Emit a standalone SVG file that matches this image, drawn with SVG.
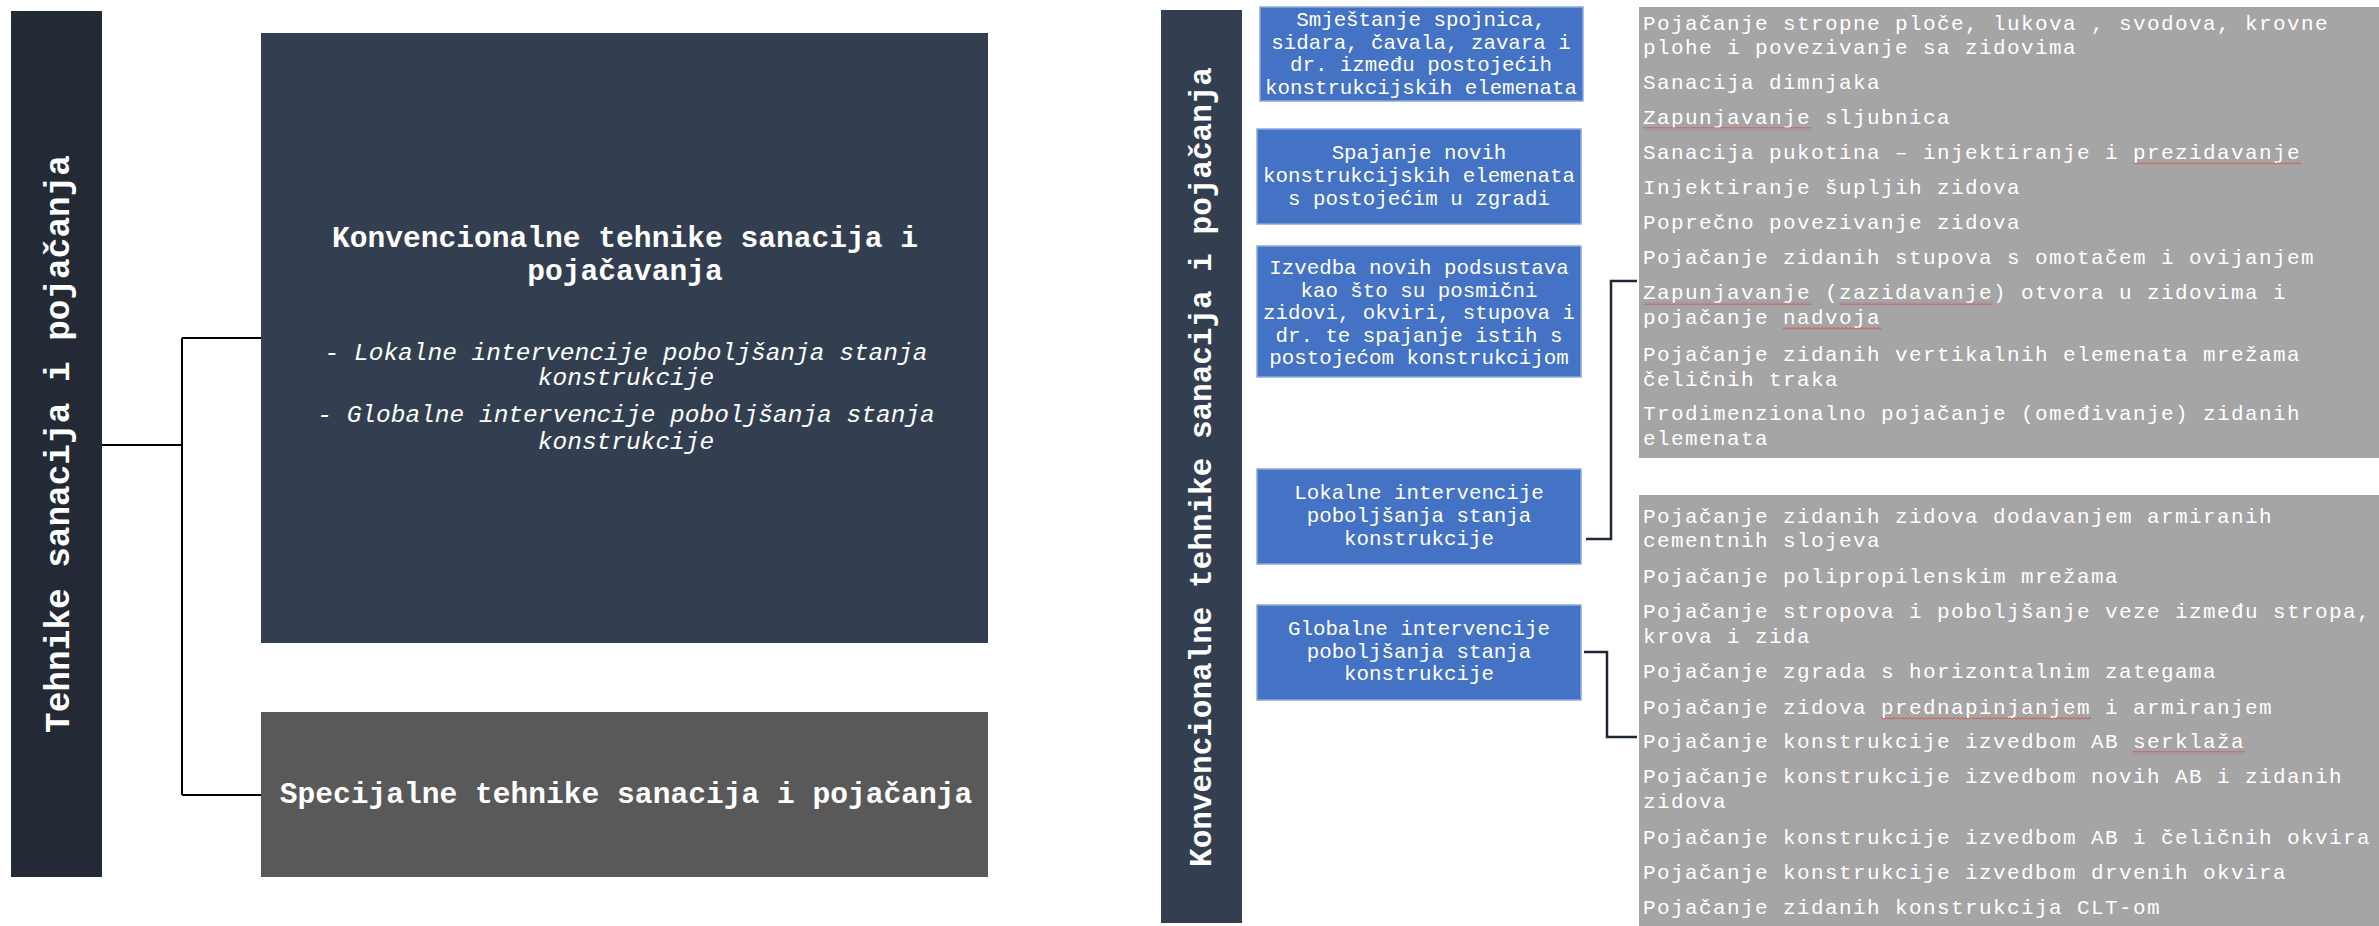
<svg xmlns="http://www.w3.org/2000/svg" width="2379" height="926" viewBox="0 0 2379 926">
<defs>
<pattern id="sq" width="4" height="3" patternUnits="userSpaceOnUse"><path d="M0,2.5 L2,0.5 L4,2.5" fill="none" stroke="#E03A3A" stroke-width="0.9"/></pattern>
</defs>
<style>
.mono{font-family:"Liberation Mono","DejaVu Sans Mono",monospace;fill:#fff}
.bar{font-size:34.4px;font-weight:bold}
.rbar{font-size:31px;font-weight:bold}
.ttl{font-size:29.6px;font-weight:bold}
.it{font-size:24.5px;font-style:italic}
.blue{font-size:20.8px}
.gl{font-size:21px;letter-spacing:1.4px}
.ln{fill:none;stroke:#000;stroke-width:2}
.rln{fill:none;stroke:#1E2836;stroke-width:2.5}
.bb{fill:#4472C4;stroke:#8EA9DB;stroke-width:1.5}
.sq{fill:url(#sq)}
</style>
<rect width="2379" height="926" fill="#fff"/>

<g id="connectors">
<path class="ln" d="M102,445 H182 M182,338 V795 M182,338 H261 M182,795 H261"/>
<path class="rln" d="M1586,539 H1611 V281 H1637"/>
<path class="rln" d="M1584,652 H1607 V737 H1637"/>
</g>

<g id="root">
<rect x="11" y="11" width="91" height="866" fill="#232A35"/>
<text class="mono bar" transform="translate(69,444) rotate(-90)" text-anchor="middle">Tehnike sanacija i pojačanja</text>
</g>

<g id="konvencionalne">
<rect x="261" y="33" width="727" height="610" fill="#333F50"/>
<text class="mono ttl" text-anchor="middle"><tspan x="625" y="247">Konvencionalne tehnike sanacija i</tspan><tspan x="625" y="280">pojačavanja</tspan></text>
<text class="mono it" text-anchor="middle"><tspan x="626" y="360">- Lokalne intervencije poboljšanja stanja</tspan><tspan x="626" y="385">konstrukcije</tspan><tspan x="626" y="422">- Globalne intervencije poboljšanja stanja</tspan><tspan x="626" y="449">konstrukcije</tspan></text>
</g>

<g id="specijalne">
<rect x="261" y="712" width="727" height="165" fill="#595959"/>
<text class="mono ttl" x="626" y="803" text-anchor="middle">Specijalne tehnike sanacija i pojačanja</text>
</g>

<g id="konv-bar">
<rect x="1161" y="10" width="81" height="913" fill="#333F50"/>
<text class="mono rbar" transform="translate(1211,467) rotate(-90)" text-anchor="middle">Konvencionalne tehnike sanacija i pojačanja</text>
</g>

<g id="b1">
<rect class="bb" x="1260" y="7" width="323" height="94"/>
<text class="mono blue" text-anchor="middle"><tspan x="1421" y="26">Smještanje spojnica,</tspan><tspan x="1421" y="48.5">sidara, čavala, zavara i</tspan><tspan x="1421" y="71">dr. između postojećih</tspan><tspan x="1421" y="93.5">konstrukcijskih elemenata</tspan></text>
</g>
<g id="b2">
<rect class="bb" x="1257" y="129" width="324" height="95"/>
<text class="mono blue" text-anchor="middle"><tspan x="1419" y="159">Spajanje novih</tspan><tspan x="1419" y="182">konstrukcijskih elemenata</tspan><tspan x="1419" y="205">s postojećim u zgradi</tspan></text>
</g>
<g id="b3">
<rect class="bb" x="1257" y="246" width="324" height="131"/>
<text class="mono blue" text-anchor="middle"><tspan x="1419" y="274">Izvedba novih podsustava</tspan><tspan x="1419" y="297">kao što su posmični</tspan><tspan x="1419" y="319">zidovi, okviri, stupova i</tspan><tspan x="1419" y="342">dr. te spajanje istih s</tspan><tspan x="1419" y="364">postojećom konstrukcijom</tspan></text>
</g>
<g id="b4">
<rect class="bb" x="1257" y="469" width="324" height="95"/>
<text class="mono blue" text-anchor="middle"><tspan x="1419" y="499">Lokalne intervencije</tspan><tspan x="1419" y="522">poboljšanja stanja</tspan><tspan x="1419" y="545">konstrukcije</tspan></text>
</g>
<g id="b5">
<rect class="bb" x="1257" y="605" width="324" height="95"/>
<text class="mono blue" text-anchor="middle"><tspan x="1419" y="635">Globalne intervencije</tspan><tspan x="1419" y="658">poboljšanja stanja</tspan><tspan x="1419" y="680">konstrukcije</tspan></text>
</g>

<g id="lokalne-list">
<rect x="1639" y="7" width="740" height="451" fill="#A5A5A5"/>
<text class="mono gl">
<tspan x="1643" y="30">Pojačanje stropne ploče, lukova , svodova, krovne</tspan>
<tspan x="1643" y="54">plohe i povezivanje sa zidovima</tspan>
<tspan x="1643" y="89">Sanacija dimnjaka</tspan>
<tspan x="1643" y="124">Zapunjavanje sljubnica</tspan>
<tspan x="1643" y="159">Sanacija pukotina – injektiranje i prezidavanje</tspan>
<tspan x="1643" y="194">Injektiranje šupljih zidova</tspan>
<tspan x="1643" y="229">Poprečno povezivanje zidova</tspan>
<tspan x="1643" y="264">Pojačanje zidanih stupova s omotačem i ovijanjem</tspan>
<tspan x="1643" y="299">Zapunjavanje (zazidavanje) otvora u zidovima i</tspan>
<tspan x="1643" y="324">pojačanje nadvoja</tspan>
<tspan x="1643" y="361">Pojačanje zidanih vertikalnih elemenata mrežama</tspan>
<tspan x="1643" y="386">čeličnih traka</tspan>
<tspan x="1643" y="420">Trodimenzionalno pojačanje (omeđivanje) zidanih</tspan>
<tspan x="1643" y="445">elemenata</tspan>
</text>
<rect class="sq" x="1643" y="127" width="168" height="3"/>
<rect class="sq" x="2133" y="162" width="168" height="3"/>
<rect class="sq" x="1643" y="302" width="168" height="3"/>
<rect class="sq" x="1839" y="302" width="154" height="3"/>
<rect class="sq" x="1783" y="327" width="98" height="3"/>
</g>

<g id="globalne-list">
<rect x="1639" y="495" width="740" height="431" fill="#A5A5A5"/>
<text class="mono gl">
<tspan x="1643" y="523">Pojačanje zidanih zidova dodavanjem armiranih</tspan>
<tspan x="1643" y="547">cementnih slojeva</tspan>
<tspan x="1643" y="583">Pojačanje polipropilenskim mrežama</tspan>
<tspan x="1643" y="618">Pojačanje stropova i poboljšanje veze između stropa,</tspan>
<tspan x="1643" y="643">krova i zida</tspan>
<tspan x="1643" y="678">Pojačanje zgrada s horizontalnim zategama</tspan>
<tspan x="1643" y="714">Pojačanje zidova prednapinjanjem i armiranjem</tspan>
<tspan x="1643" y="748">Pojačanje konstrukcije izvedbom AB serklaža</tspan>
<tspan x="1643" y="783">Pojačanje konstrukcije izvedbom novih AB i zidanih</tspan>
<tspan x="1643" y="808">zidova</tspan>
<tspan x="1643" y="844">Pojačanje konstrukcije izvedbom AB i čeličnih okvira</tspan>
<tspan x="1643" y="879">Pojačanje konstrukcije izvedbom drvenih okvira</tspan>
<tspan x="1643" y="914">Pojačanje zidanih konstrukcija CLT-om</tspan>
</text>
<rect class="sq" x="1881" y="717" width="210" height="3"/>
<rect class="sq" x="2133" y="751" width="112" height="3"/>
</g>
</svg>
